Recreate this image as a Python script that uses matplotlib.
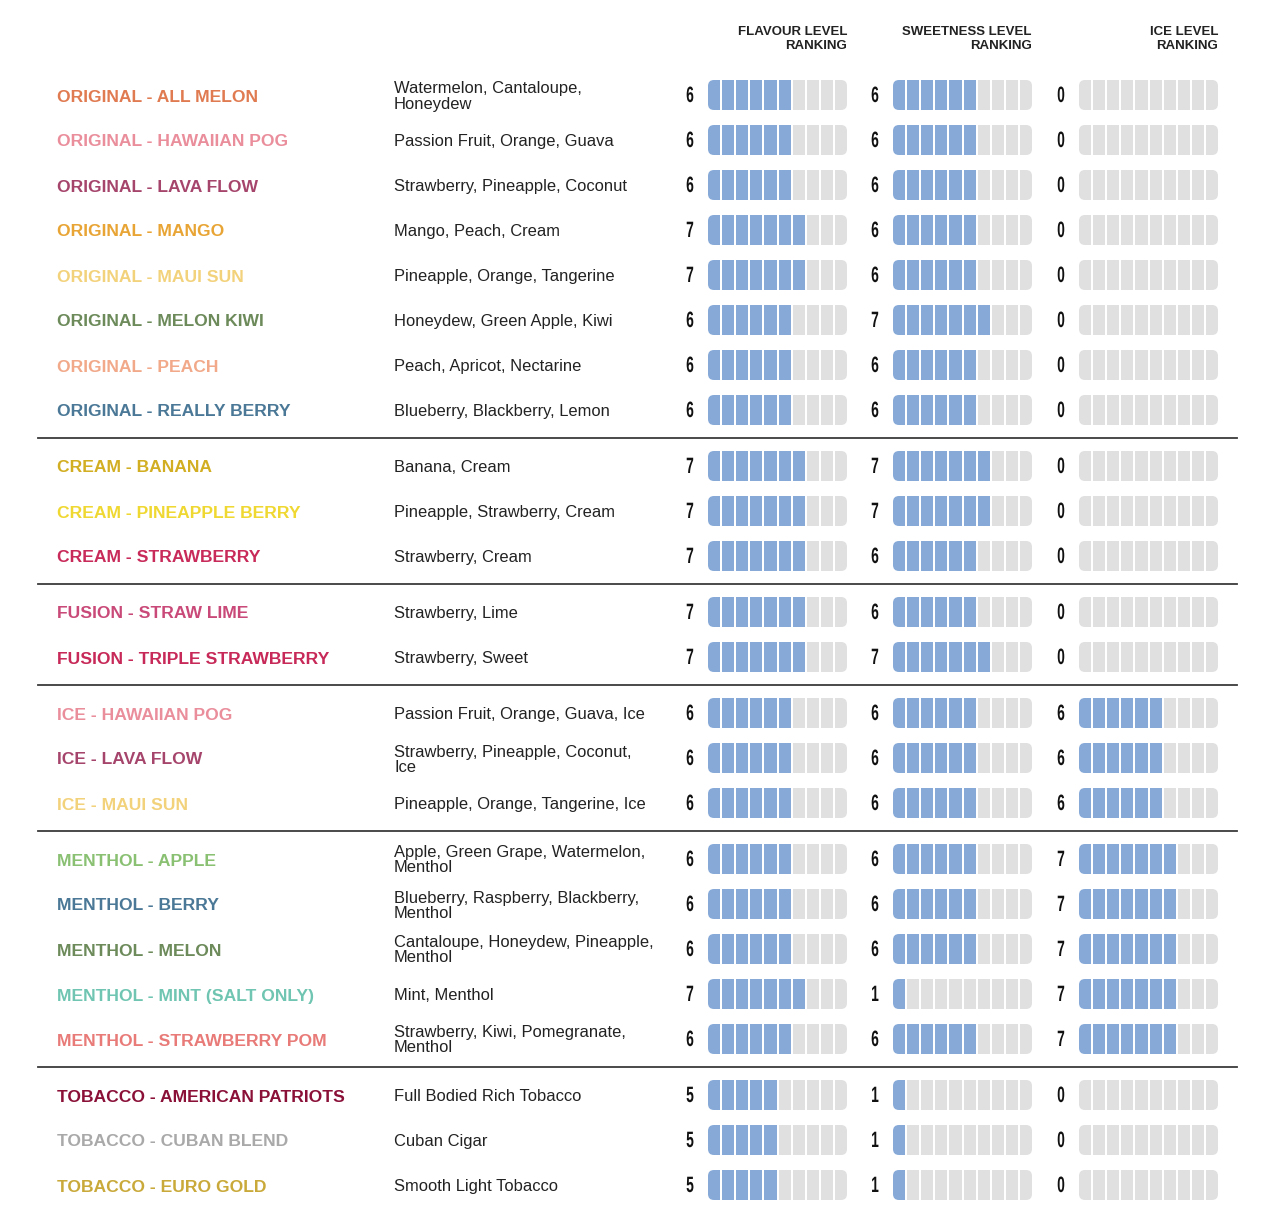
import matplotlib.pyplot as plt
from matplotlib.patches import Rectangle, FancyBboxPatch
from matplotlib.patheffects import AbstractPathEffect
from matplotlib.transforms import Affine2D

names = ["ORIGINAL - ALL MELON", "ORIGINAL - HAWAIIAN POG", "ORIGINAL - LAVA FLOW", "ORIGINAL - MANGO",
         "ORIGINAL - MAUI SUN", "ORIGINAL - MELON KIWI", "ORIGINAL - PEACH", "ORIGINAL - REALLY BERRY",
         "CREAM - BANANA", "CREAM - PINEAPPLE BERRY", "CREAM - STRAWBERRY",
         "FUSION - STRAW LIME", "FUSION - TRIPLE STRAWBERRY",
         "ICE - HAWAIIAN POG", "ICE - LAVA FLOW", "ICE - MAUI SUN",
         "MENTHOL - APPLE", "MENTHOL - BERRY", "MENTHOL - MELON", "MENTHOL - MINT (SALT ONLY)",
         "MENTHOL - STRAWBERRY POM",
         "TOBACCO - AMERICAN PATRIOTS", "TOBACCO - CUBAN BLEND", "TOBACCO - EURO GOLD"]
groups = [0]*8 + [1]*3 + [2]*2 + [3]*3 + [4]*5 + [5]*3
descriptions = ["Watermelon, Cantaloupe,\nHoneydew", "Passion Fruit, Orange, Guava",
                "Strawberry, Pineapple, Coconut", "Mango, Peach, Cream", "Pineapple, Orange, Tangerine",
                "Honeydew, Green Apple, Kiwi", "Peach, Apricot, Nectarine", "Blueberry, Blackberry, Lemon",
                "Banana, Cream", "Pineapple, Strawberry, Cream", "Strawberry, Cream",
                "Strawberry, Lime", "Strawberry, Sweet",
                "Passion Fruit, Orange, Guava, Ice", "Strawberry, Pineapple, Coconut,\nIce",
                "Pineapple, Orange, Tangerine, Ice",
                "Apple, Green Grape, Watermelon,\nMenthol", "Blueberry, Raspberry, Blackberry,\nMenthol",
                "Cantaloupe, Honeydew, Pineapple,\nMenthol", "Mint, Menthol",
                "Strawberry, Kiwi, Pomegranate,\nMenthol",
                "Full Bodied Rich Tobacco", "Cuban Cigar", "Smooth Light Tobacco"]
flavour = [6, 6, 6, 7, 7, 6, 6, 6, 7, 7, 7, 7, 7, 6, 6, 6, 6, 6, 6, 7, 6, 5, 5, 5]
sweetness = [6, 6, 6, 6, 6, 7, 6, 6, 7, 7, 6, 6, 7, 6, 6, 6, 6, 6, 6, 1, 6, 1, 1, 1]
ice = [0, 0, 0, 0, 0, 0, 0, 0, 0, 0, 0, 0, 0, 6, 6, 6, 7, 7, 7, 7, 7, 0, 0, 0]
name_colors = ["#E07A50", "#EA8E9C", "#A6456C", "#E8A535", "#F3D27C", "#6C8A5A", "#F1A98A", "#4A7896",
               "#D2AE22", "#F0D832", "#C82A5A", "#C94A78", "#C72958",
               "#EA8E9C", "#A6456C", "#F3D27C",
               "#89C072", "#4A7896", "#6C8A5A", "#6FC5B1", "#E87A78",
               "#8A1038", "#A9A9A9", "#C9A93A"]
headers = ["FLAVOUR LEVEL\nRANKING", "SWEETNESS LEVEL\nRANKING", "ICE LEVEL\nRANKING"]

FILL = "#86A9D8"
EMPTY = "#E0E0E0"
TEXT_FONT = ["Liberation Sans", "DejaVu Sans"]


class Squeeze(AbstractPathEffect):
    # narrows glyphs horizontally around a fixed x (display coords)
    def __init__(self, cx, sx):
        super().__init__()
        self.cx = cx
        self.sx = sx

    def draw_path(self, renderer, gc, tpath, affine, rgbFace=None):
        squeeze = Affine2D().translate(-self.cx, 0).scale(self.sx, 1).translate(self.cx, 0)
        renderer.draw_path(gc, tpath, affine + squeeze, rgbFace)


fig = plt.figure(figsize=(12.75, 12.2), dpi=100)
ax = fig.add_axes([0, 0, 1, 1])
ax.set_xlim(0, 1275)
ax.set_ylim(1220, 0)
ax.axis('off')

# layout in pixel units
top, step, group_gap = 95, 45, 11
bar_x0 = [708, 893, 1079]
bar_w, bar_h, seg_gap = 139, 30, 2
seg_w = (bar_w - 9*seg_gap) / 10.0

ys = []
for i, g in enumerate(groups):
    ys.append(top + i*step + g*group_gap)

def draw_bar(x0, yc, val):
    clip = FancyBboxPatch((x0, yc - bar_h/2), bar_w, bar_h,
                          boxstyle="round,pad=0,rounding_size=6",
                          facecolor='none', edgecolor='none')
    ax.add_patch(clip)
    for k in range(10):
        r = Rectangle((x0 + k*(seg_w + seg_gap), yc - bar_h/2), seg_w, bar_h,
                      facecolor=FILL if k < val else EMPTY, edgecolor='none')
        ax.add_patch(r)
        r.set_clip_path(clip)

for i in range(len(names)):
    y = ys[i]
    ax.text(57, y + 2, names[i], color=name_colors[i], fontsize=12.6, fontweight='bold',
            family=TEXT_FONT, va='center', ha='left')
    ax.text(394, y + 1.5, descriptions[i], color="#222222", fontsize=11.9, family=TEXT_FONT,
            va='center', ha='left', linespacing=1.0)
    for j, vals in enumerate([flavour, sweetness, ice]):
        nx_ = bar_x0[j] - 18
        cx = ax.transData.transform((nx_, y))[0]
        ax.text(nx_, y + 1.5, str(vals[i]), fontsize=16, fontweight='bold',
                family=TEXT_FONT, va='center', ha='center', color="#111111",
                path_effects=[Squeeze(cx, 0.62)])
        draw_bar(bar_x0[j], y, vals[i])

# dividers between groups
for i in range(1, len(groups)):
    if groups[i] != groups[i-1]:
        yd = (ys[i] + ys[i-1]) / 2.0
        ax.plot([38, 1237], [yd, yd], color="#3a3a3a", lw=1.3)

for j, h in enumerate(headers):
    ax.text(bar_x0[j] + bar_w, 39, h, fontsize=9.5, fontweight='bold', family=TEXT_FONT,
            ha='right', va='center', color="#222222", linespacing=1.2)

fig.savefig("out.png", dpi=100, facecolor='white')
